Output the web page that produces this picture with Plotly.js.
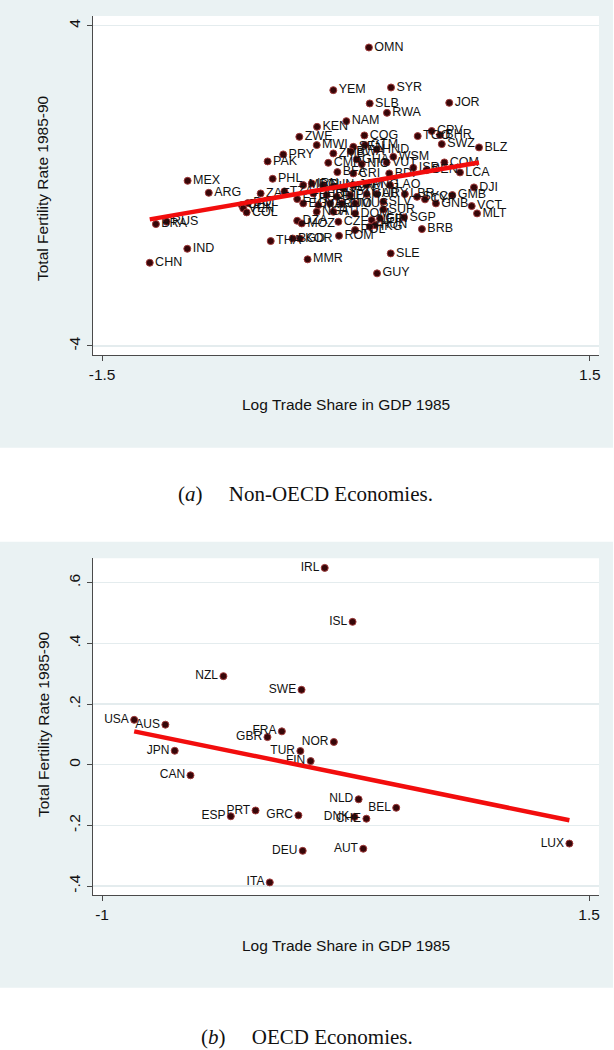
<!DOCTYPE html>
<html>
<head>
<meta charset="utf-8">
<script src="https://cdn.plot.ly/plotly-3.0.1.min.js"></script>
<style>html,body{margin:0;padding:0;background:#fff;}#chart{width:614px;height:1050px;}</style>
</head>
<body>
<div id="chart"></div>
<script>
// ---------- Panel (a): Non-OECD economies ----------
const nonOecdCodes = ["OMN","YEM","SYR","SLB","JOR","RWA","NAM","KEN","CPV","TGO","BHR","SWZ","BLZ","COG","ZWE","MWI","SEN","GTM","HND","ZMB","BWA","WSM","GHA","CMR","NIC","VUT","PRY","PAK","COM","ISR","BEN","LCA","BFA","CRI","BDI","MEX","PHL","DJI","LAO","MDG","IRN","TUN","LKA","SDN","JAM","PNG","LBR","ARG","ZAF","TZA","PER","IDN","PAN","FJI","GAB","URY","GMB","SYC","CYP","ETH","SLV","EGY","ECU","TTO","MUS","GNB","MAR","CHL","BOL","VEN","VCT","SUR","COL","NGA","HTI","DOM","MLT","SGP","GIN","NER","DZA","CZE","MOZ","HUN","HKG","POL","BRB","BRA","RUS","ROM","THA","BGD","KOR","IND","SLE","MMR","CHN","GUY"];
const nonOecdTrade = [0.141,-0.078,0.277,0.146,0.635,0.252,0.002,-0.178,0.527,0.441,0.578,0.589,0.818,0.113,-0.287,-0.180,0.045,0.117,0.189,-0.078,0.030,0.291,0.066,-0.109,0.097,0.250,-0.386,-0.482,0.605,0.414,0.496,0.701,-0.053,0.045,0.266,-0.974,-0.451,0.787,0.271,-0.263,-0.211,-0.140,-0.078,-0.016,0.045,0.127,0.362,-0.844,-0.525,-0.379,-0.201,-0.119,0.025,-0.057,0.127,0.189,0.654,0.437,0.486,-0.300,0.229,-0.263,-0.098,-0.026,0.056,0.553,-0.170,-0.641,-0.603,-0.632,0.773,0.229,-0.611,-0.180,-0.078,0.056,0.806,0.357,0.209,0.158,-0.300,-0.047,-0.272,0.178,0.147,0.056,0.467,-1.169,-1.103,-0.043,-0.463,-0.328,-0.283,-0.976,0.275,-0.236,-1.207,0.191];
const nonOecdFert = [3.456,2.390,2.457,2.058,2.073,1.823,1.616,1.474,1.370,1.242,1.267,1.042,0.960,1.259,1.224,1.017,0.975,1.017,0.910,0.810,0.860,0.725,0.660,0.575,0.543,0.585,0.785,0.610,0.585,0.450,0.393,0.335,0.343,0.310,0.310,0.126,0.176,-0.039,0.018,0.018,0.060,0.018,-0.024,-0.063,0.018,0.018,-0.206,-0.174,-0.190,-0.139,-0.189,-0.231,-0.231,-0.273,-0.206,-0.206,-0.231,-0.275,-0.338,-0.331,-0.398,-0.438,-0.438,-0.438,-0.438,-0.438,-0.481,-0.481,-0.430,-0.563,-0.506,-0.588,-0.663,-0.647,-0.647,-0.688,-0.688,-0.788,-0.815,-0.855,-0.873,-0.898,-0.938,-0.980,-1.022,-1.105,-1.080,-0.955,-0.898,-1.247,-1.379,-1.315,-1.315,-1.572,-1.687,-1.836,-1.921,-2.186];
const nonOecdFitX = [-1.207, 0.818];
const nonOecdFitY = [-0.838, 0.585];
const nonOecdXTicks = [-1.5, 1.5];
const nonOecdXTickText = ["-1.5", "1.5"];
const nonOecdYTicks = [-4, 4];
const nonOecdYTickText = ["-4", "4"];

// ---------- Panel (b): OECD economies ----------
const oecdCodes = ["IRL","ISL","NZL","SWE","USA","AUS","FRA","GBR","NOR","JPN","TUR","FIN","CAN","NLD","BEL","PRT","ESP","GRC","DNK","CHE","DEU","AUT","ITA","LUX"];
const oecdTrade = [0.143,0.286,-0.377,0.024,-0.835,-0.675,-0.077,-0.151,0.190,-0.627,0.018,0.071,-0.546,0.317,0.510,-0.212,-0.339,0.008,0.296,0.357,0.030,0.341,-0.139,1.399];
const oecdFert = [0.649,0.471,0.292,0.247,0.148,0.132,0.110,0.091,0.075,0.046,0.045,0.012,-0.035,-0.114,-0.142,-0.151,-0.170,-0.167,-0.172,-0.178,-0.284,-0.277,-0.388,-0.260];
const oecdFitX = [-0.835, 1.399];
const oecdFitY = [0.110, -0.183];
const oecdXTicks = [-1, 1.5];
const oecdXTickText = ["-1", "1.5"];
const oecdYTicks = [-0.4, -0.2, 0, 0.2, 0.4, 0.6];
const oecdYTickText = ["-.4", "-.2", "0", ".2", ".4", ".6"];

const xTitle = "Log Trade Share in GDP 1985";
const yTitle = "Total Fertility Rate 1985-90";
const captionA = "(<i>a</i>)\u2003 Non-OECD Economies.";
const captionB = "(<i>b</i>)\u2003 OECD Economies.";

// ---------- styling ----------
const W = 614, H = 1050;
const py = v => 1 - v / H;       // pixel row -> paper y
const px = v => v / W;           // pixel col -> paper x
const panelColor = '#eaf2f3';
const gridColor = '#e4ecee';
const axisColor = '#4a4a4a';
const txtColor = '#111111';
const markerStyle = {size: 7, color: '#360608', line: {color: '#a03a3a', width: 1}};
const sans = 'Liberation Sans, Arial, sans-serif';
const serif = 'Liberation Serif, DejaVu Serif, serif';

const plotX = [px(92.5), px(599)];
const plotYa = [py(355), py(16)];
const plotYb = [py(895), py(558.3)];

const traces = [
  {x: nonOecdTrade, y: nonOecdFert, text: nonOecdCodes, type: 'scatter', mode: 'markers+text',
   textposition: 'middle right', textfont: {family: sans, size: 12.5, color: txtColor},
   marker: markerStyle, xaxis: 'x', yaxis: 'y', cliponaxis: false, hoverinfo: 'skip'},
  {x: nonOecdFitX, y: nonOecdFitY, type: 'scatter', mode: 'lines',
   line: {color: '#f20d0d', width: 4.5}, xaxis: 'x', yaxis: 'y', hoverinfo: 'skip'},
  {x: oecdTrade, y: oecdFert, text: oecdCodes, type: 'scatter', mode: 'markers+text',
   textposition: 'middle left', textfont: {family: sans, size: 12, color: txtColor},
   marker: markerStyle, xaxis: 'x2', yaxis: 'y2', cliponaxis: false, hoverinfo: 'skip'},
  {x: oecdFitX, y: oecdFitY, type: 'scatter', mode: 'lines',
   line: {color: '#f20d0d', width: 4.5}, xaxis: 'x2', yaxis: 'y2', hoverinfo: 'skip'}
];

function xAxis(domain, anchor, range, vals, text) {
  return {domain: domain, anchor: anchor, range: range, tickvals: vals, ticktext: text,
    showgrid: false, zeroline: false, showline: true, linecolor: axisColor, linewidth: 1,
    ticks: 'outside', ticklen: 5, tickcolor: axisColor, tickwidth: 1,
    tickfont: {family: sans, size: 15.5, color: txtColor}, fixedrange: true};
}
function yAxis(domain, anchor, range, vals, text) {
  return {domain: domain, anchor: anchor, range: range, tickvals: vals, ticktext: text,
    showgrid: true, gridcolor: gridColor, gridwidth: 1.2, zeroline: false, showline: true,
    linecolor: axisColor, linewidth: 1, ticks: 'outside', ticklen: 5, tickcolor: axisColor,
    tickwidth: 1, tickangle: -90, tickfont: {family: sans, size: 15.5, color: txtColor}, fixedrange: true};
}

const layout = {
  width: W, height: H, margin: {l: 0, r: 0, t: 0, b: 0},
  paper_bgcolor: '#ffffff', plot_bgcolor: '#ffffff', showlegend: false,
  font: {family: sans, color: txtColor},
  xaxis: xAxis(plotX, 'y', [-1.559, 1.556], nonOecdXTicks, nonOecdXTickText),
  yaxis: yAxis(plotYa, 'x', [-4.225, 4.242], nonOecdYTicks, nonOecdYTickText),
  xaxis2: xAxis(plotX, 'y2', [-1.049, 1.551], oecdXTicks, oecdXTickText),
  yaxis2: yAxis(plotYb, 'x2', [-0.4296, 0.6806], oecdYTicks, oecdYTickText),
  shapes: [
    {type: 'rect', xref: 'paper', yref: 'paper', x0: 0, x1: px(613), y0: py(447.7), y1: 1,
     fillcolor: panelColor, line: {width: 0}, layer: 'below'},
    {type: 'rect', xref: 'paper', yref: 'paper', x0: 0, x1: px(613), y0: py(987.7), y1: py(541.7),
     fillcolor: panelColor, line: {width: 0}, layer: 'below'},
    {type: 'rect', xref: 'paper', yref: 'paper', x0: plotX[0], x1: plotX[1], y0: plotYa[0], y1: plotYa[1],
     fillcolor: '#ffffff', line: {width: 0}, layer: 'below'},
    {type: 'rect', xref: 'paper', yref: 'paper', x0: plotX[0], x1: plotX[1], y0: plotYb[0], y1: plotYb[1],
     fillcolor: '#ffffff', line: {width: 0}, layer: 'below'}
  ],
  annotations: [
    {text: xTitle, xref: 'paper', yref: 'paper', x: px(345.6), y: py(405), xanchor: 'center', yanchor: 'middle',
     showarrow: false, font: {family: sans, size: 15.5, color: txtColor}},
    {text: yTitle, xref: 'paper', yref: 'paper', x: px(43), y: py(188), xanchor: 'center', yanchor: 'middle',
     textangle: -90, showarrow: false, font: {family: sans, size: 15.5, color: txtColor}},
    {text: xTitle, xref: 'paper', yref: 'paper', x: px(345.6), y: py(945), xanchor: 'center', yanchor: 'middle',
     showarrow: false, font: {family: sans, size: 15.5, color: txtColor}},
    {text: yTitle, xref: 'paper', yref: 'paper', x: px(43), y: py(724), xanchor: 'center', yanchor: 'middle',
     textangle: -90, showarrow: false, font: {family: sans, size: 15.5, color: txtColor}},
    {text: captionA, xref: 'paper', yref: 'paper', x: px(305), y: py(494), xanchor: 'center', yanchor: 'middle',
     showarrow: false, font: {family: serif, size: 21, color: '#111'}},
    {text: captionB, xref: 'paper', yref: 'paper', x: px(307), y: py(1037), xanchor: 'center', yanchor: 'middle',
     showarrow: false, font: {family: serif, size: 21, color: '#111'}}
  ]
};

Plotly.newPlot('chart', traces, layout, {staticPlot: true, displayModeBar: false});
</script>
</body>
</html>
